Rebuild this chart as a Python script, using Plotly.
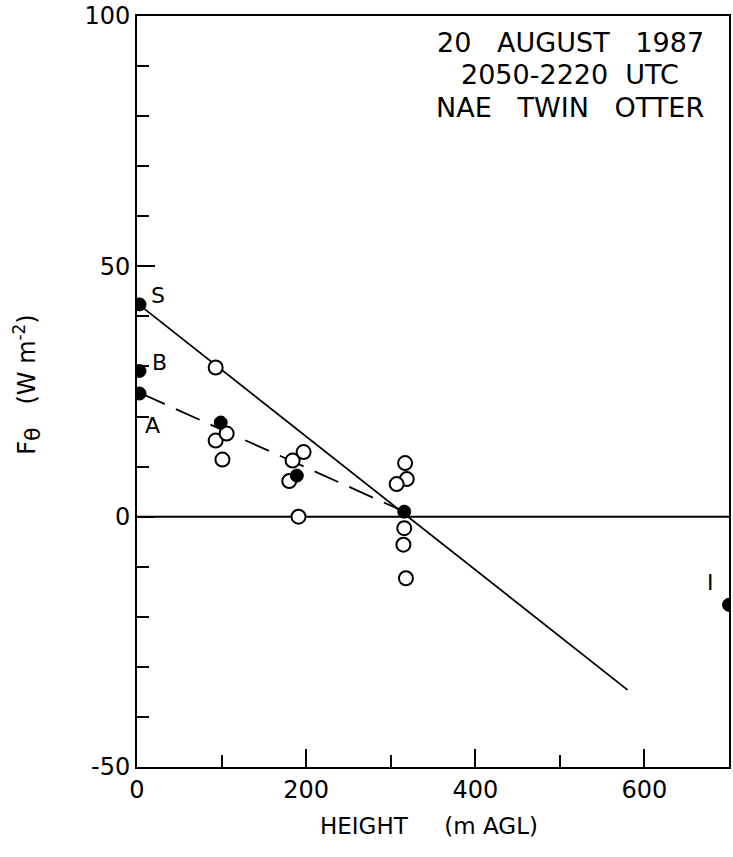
import plotly.graph_objects as go

# Filled symbols (profile points)
filled_x = [3, 3, 3, 99, 189, 316, 700]
filled_y = [42.4, 29.1, 24.6, 18.8, 8.2, 1.0, -17.6]

# Open symbols (individual runs)
open_x = [93, 93, 106, 101, 184, 197, 180, 191, 317, 319, 307, 316, 315, 318]
open_y = [29.8, 15.2, 16.6, 11.4, 11.2, 12.9, 7.1, 0.0, 10.7, 7.5, 6.5, -2.3, -5.6, -12.3]

# Fitted lines
solid_x = [5, 580]
solid_y = [42.0, -34.6]
dash_x = [5, 316]
dash_y = [24.6, 1.0]

# Point labels
lab_text = ["S", "B", "A", "I"]
lab_x = [25, 27, 18, 678]
lab_y = [44.1, 30.8, 18.2, -13.2]

header = ["20\u00a0\u00a0\u00a0AUGUST\u00a0\u00a0\u00a01987",
          "2050-2220\u00a0\u00a0UTC",
          "NAE\u00a0\u00a0\u00a0TWIN\u00a0\u00a0\u00a0OTTER"]
header_y = [0.965, 0.922, 0.878]

FONT = "DejaVu Sans"

fig = go.Figure()
fig.add_trace(go.Scatter(x=[0, 700], y=[0, 0], mode="lines",
                         line=dict(color="black", width=2), showlegend=False, hoverinfo="skip"))
fig.add_trace(go.Scatter(x=solid_x, y=solid_y, mode="lines",
                         line=dict(color="black", width=1.8), showlegend=False))
fig.add_trace(go.Scatter(x=dash_x, y=dash_y, mode="lines",
                         line=dict(color="black", width=1.8, dash="26px,12px"), showlegend=False))
fig.add_trace(go.Scatter(x=open_x, y=open_y, mode="markers",
                         marker=dict(symbol="circle", size=14, color="white",
                                     line=dict(color="black", width=2)),
                         showlegend=False))
fig.add_trace(go.Scatter(x=filled_x, y=filled_y, mode="markers",
                         marker=dict(symbol="circle", size=13, color="black",
                                     line=dict(color="black", width=1)),
                         showlegend=False))

annotations = []
for t, xx, yy in zip(lab_text, lab_x, lab_y):
    annotations.append(dict(text=t, xref="x", yref="y", x=xx, y=yy,
                            xanchor="center", yanchor="middle", showarrow=False,
                            font=dict(family=FONT, size=22, color="black")))
for t, yy in zip(header, header_y):
    annotations.append(dict(text=t, xref="paper", yref="paper", x=0.732, y=yy,
                            xanchor="center", yanchor="middle", showarrow=False,
                            font=dict(family=FONT, size=27, color="black")))
annotations.append(dict(text="HEIGHT\u00a0\u00a0\u00a0\u00a0\u00a0(m\u00a0AGL)", xref="paper", yref="paper",
                        x=0.493, y=0, yshift=-59, xanchor="center", yanchor="middle",
                        showarrow=False, font=dict(family=FONT, size=23, color="black")))
annotations.append(dict(text="F<sub><span style='font-size:22px'>θ</span></sub>\u00a0\u00a0\u00a0(W\u00a0m<sup>-2</sup>)",
                        xref="paper", yref="paper",
                        x=0, xshift=-110, y=0.509, xanchor="center", yanchor="middle",
                        textangle=-90, showarrow=False,
                        font=dict(family=FONT, size=24, color="black")))

fig.update_layout(
    width=733, height=857,
    margin=dict(l=137, r=2, t=16, b=90),
    paper_bgcolor="white", plot_bgcolor="white",
    annotations=annotations,
    xaxis=dict(range=[0, 700], showgrid=False, zeroline=False,
               showline=True, linecolor="black", linewidth=2, mirror=True,
               ticks="inside", tickcolor="black", ticklen=18, tickwidth=2,
               tickvals=[0, 200, 400, 600], ticktext=["0", "200", "400", "600"],
               minor=dict(tickvals=[100, 300, 500], ticks="inside", ticklen=12,
                          tickwidth=2, tickcolor="black"),
               tickfont=dict(family=FONT, size=24, color="black")),
    yaxis=dict(range=[-50, 100], showgrid=False, zeroline=False,
               showline=True, linecolor="black", linewidth=2, mirror=True,
               ticks="inside", tickcolor="black", ticklen=18, tickwidth=2,
               tickvals=[-50, 0, 50, 100], ticktext=["-50", "0", "50", "100"],
               minor=dict(dtick=10, ticks="inside", ticklen=12, tickwidth=2,
                          tickcolor="black"),
               tickfont=dict(family=FONT, size=24, color="black")),
)

fig.write_html("out.html")
